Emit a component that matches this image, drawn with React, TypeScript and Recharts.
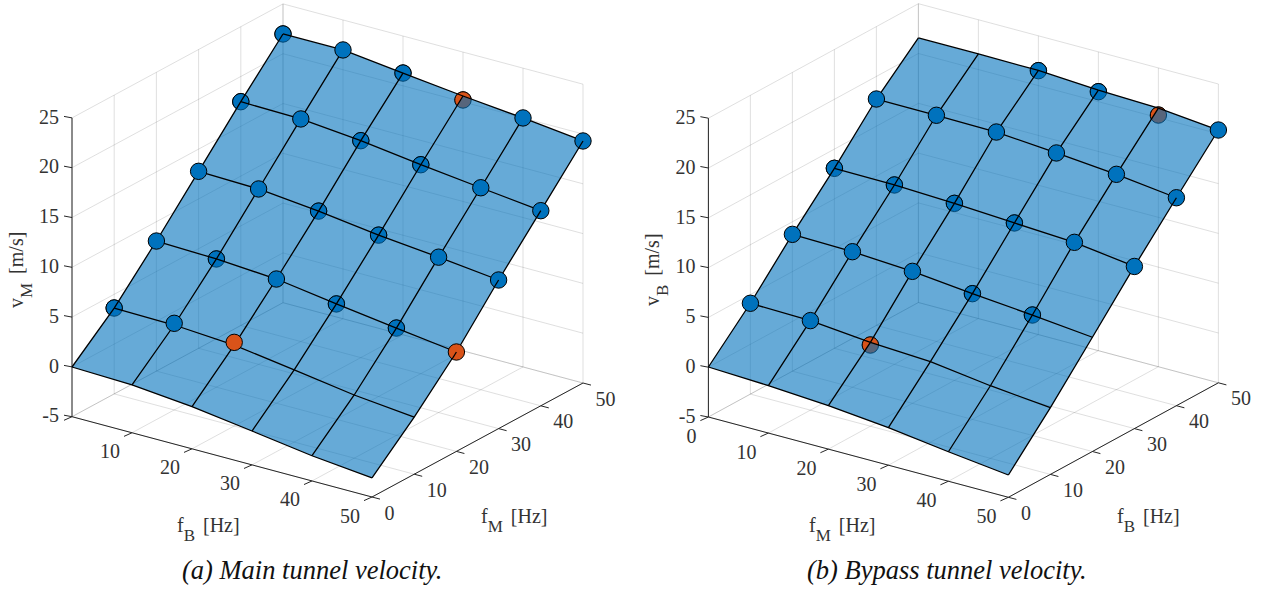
import { ScatterChart, Scatter, XAxis, YAxis } from 'recharts'

const hzGrid = [0, 10, 20, 30, 40, 50]
const hzTicks = ['0', '10', '20', '30', '40', '50']
const velocityTicks = [-5, 0, 5, 10, 15, 20, 25]

// surface heights [m/s], one row per depth-axis frequency 0..50, one column per front-axis frequency 0..50
const mainSurface = [
  [-0.01, -0.2, -0.77, -1.6, -2.47, -3.09],
  [3.62, 3.53, 3.13, 2.24, 1.34, 0.74],
  [8.06, 7.87, 7.47, 6.58, 5.77, 4.98],
  [12.77, 12.61, 12.0, 11.2, 10.6, 9.92],
  [17.47, 17.35, 16.78, 15.98, 15.28, 14.59],
  [21.98, 21.99, 21.28, 20.59, 20.0, 19.3],
]
const mainMeasured = [
  [null, null, null, null, null, null],
  [3.62, 3.7, 3.4, null, null, null],
  [8.06, 7.87, 7.47, 6.58, 5.77, 4.98],
  [12.77, 12.61, 12.0, 11.2, 10.6, 9.92],
  [17.47, 17.35, 16.78, 15.98, 15.28, 14.59],
  [21.98, 21.99, 21.28, 20.19, 20.0, 19.3],
]
// m = cuts through the surface, t = in front of it, s = in front with a mesh stub, upper case = orange
const mainKinds = ['------', 'mtT---', 'tmtmmS', 'ttmmts', 'mtmmts', 'mtmMts']

const bypassSurface = [
  [0.02, -0.24, -0.64, -1.23, -2.04, -2.76],
  [4.12, 3.99, 3.42, 3.09, 2.29, 1.7],
  [8.74, 8.61, 8.25, 7.62, 7.09, 6.47],
  [13.07, 13.01, 12.78, 12.42, 12.09, 11.28],
  [17.73, 17.71, 17.64, 17.15, 16.62, 15.88],
  [21.56, 21.57, 21.52, 21.17, 20.97, 20.38],
]
const bypassMeasured = [
  [null, null, null, null, null, null],
  [4.12, 3.99, 3.15, null, null, null],
  [8.74, 8.61, 8.25, 7.62, 7.09, null],
  [13.07, 13.01, 12.78, 12.42, 12.09, 11.28],
  [17.73, 17.71, 17.64, 17.15, 16.62, 15.88],
  [null, null, 21.5, 21.0, 20.27, 20.38],
]
const bypassKinds = ['------', 'ttM---', 'tttmm-', 'mmmmtt', 'ttttts', '--mmMt']

const BLUE = '#0072BD'
const ORANGE = '#D95319'
const AXIS = '#262626'
const TEXT = '#333333'
const FONT = '"Liberation Serif", serif'
const R = 8.2

interface View {
  left: number
  width: number
  ox: number
  oy: number
  ax: number
  ay: number
  bx: number
  by: number
  vs: number
}

const mainView: View = { left: 0, width: 640, ox: 72, oy: 416.7, ax: 6, ay: 1.606, bx: 4.22, by: -2.28, vs: 9.96 }
const bypassView: View = { left: 640, width: 641, ox: 708.4, oy: 417, ax: 6, ay: 1.606, bx: 4.2, by: -2.29, vs: 9.96 }

const project = (w: View, a: number, b: number, v: number) => ({
  x: w.ox + a * w.ax + b * w.bx,
  y: w.oy + a * w.ay + b * w.by - (v + 5) * w.vs,
})

const Nothing = () => null

// the part of a marker that stays in front of the surface
function capPaths(cx: number, cy: number, lift: number) {
  const rays = [[-0.52, 0.854], [0.94, 0.34]]
  const [p1, p2] = rays.map(([dx, dy]) => {
    const od = -lift * dy
    const t = -od + Math.sqrt(od * od - (lift * lift - R * R))
    return [cx + t * dx, cy - lift + t * dy]
  })
  const a1 = Math.atan2(p1[1] - cy, p1[0] - cx)
  const a2 = Math.atan2(p2[1] - cy, p2[0] - cx)
  const sweep = (a2 - a1 + Math.PI * 4) % (Math.PI * 2)
  const large = sweep > Math.PI ? 1 : 0
  const arc = `M${p1[0]},${p1[1]}A${R},${R} 0 ${large} 1 ${p2[0]},${p2[1]}`
  return { arc, fill: `${arc}L${cx},${cy - lift}Z` }
}

function polyline(key: string, data: { x: number; y: number }[], line: Record<string, unknown>) {
  return <Scatter key={key} data={data} line={line} shape={Nothing} isAnimationActive={false} />
}

const Disc = (p: any) => (
  <circle cx={p.cx} cy={p.cy} r={R} fill={p.payload.color} stroke="#000" strokeWidth={1} />
)

const Cap = (p: any) => {
  const { arc, fill } = capPaths(p.cx, p.cy, p.payload.lift)
  return (
    <g>
      <path d={fill} fill={p.payload.color} />
      <path d={arc} fill="none" stroke="#000" strokeWidth={1} />
    </g>
  )
}

const Topped = (p: any) => (
  <g>
    <circle cx={p.cx} cy={p.cy} r={R} fill={p.payload.color} stroke="#000" strokeWidth={1} />
    {p.payload.stub && (
      <line x1={p.cx} y1={p.cy} x2={p.cx - 0.52 * R} y2={p.cy + 0.854 * R} stroke="#000" strokeWidth={1.3} />
    )}
  </g>
)

const Label = (p: any) => (
  <text x={p.cx} y={p.cy} textAnchor={p.payload.anchor} fontFamily={FONT} fontSize={20} fill={TEXT}>
    {p.payload.text}
  </text>
)

const HzTitle = (p: any) => (
  <text x={p.cx} y={p.cy} fontFamily={FONT} fontSize={20} fill={TEXT}>
    f
    <tspan fontSize={17} dy={8.5}>{p.payload.sub}</tspan>
    <tspan dy={-8.5} dx={3}> [Hz]</tspan>
  </text>
)

const VelocityTitle = (p: any) => (
  <text
    x={p.cx}
    y={p.cy}
    transform={`rotate(-90 ${p.cx} ${p.cy})`}
    fontFamily={FONT}
    fontSize={20}
    fill={TEXT}
  >
    v
    <tspan fontSize={17} dy={9}>{p.payload.sub}</tspan>
    <tspan dy={-9} dx={4}> [m/s]</tspan>
  </text>
)

const Caption = (p: any) => (
  <text x={p.cx} y={p.cy} fontFamily={FONT} fontStyle="italic" fontSize={26.5} fill="#111">
    {p.payload.text}
  </text>
)

interface PanelProps {
  view: View
  surface: number[][]
  measured: (number | null)[][]
  kinds: string[]
  frontSub: string
  depthSub: string
  velocitySub: string
  showFrontZero: boolean
  frontTitle: { x: number; y: number }
  depthTitle: { x: number; y: number }
  velocityTitle: { x: number; y: number }
  caption: { x: number; y: number; text: string }
}

function TunnelPanel(props: PanelProps) {
  const { view: w, surface, measured, kinds } = props
  const gridLine = { stroke: AXIS, strokeOpacity: 0.15, strokeWidth: 1, fill: 'none' }
  const axisLine = { stroke: AXIS, strokeWidth: 1, fill: 'none' }
  const meshLine = { stroke: '#000', strokeWidth: 1.3, fill: 'none' }
  const top = velocityTicks[velocityTicks.length - 1]
  const floor = velocityTicks[0]

  const grid: React.ReactNode[] = []
  hzGrid.forEach((f) => {
    grid.push(polyline(`floor-a${f}`, [project(w, f, 0, floor), project(w, f, 50, floor)], gridLine))
    grid.push(polyline(`floor-b${f}`, [project(w, 0, f, floor), project(w, 50, f, floor)], gridLine))
    grid.push(polyline(`wall-a${f}`, [project(w, f, 50, floor), project(w, f, 50, top)], gridLine))
    grid.push(polyline(`wall-b${f}`, [project(w, 0, f, floor), project(w, 0, f, top)], gridLine))
  })
  velocityTicks.forEach((v) => {
    grid.push(polyline(`wall-hb${v}`, [project(w, 0, 0, v), project(w, 0, 50, v)], gridLine))
    grid.push(polyline(`wall-ha${v}`, [project(w, 0, 50, v), project(w, 50, 50, v)], gridLine))
  })

  const axes: React.ReactNode[] = [
    polyline('axis-v', [project(w, 0, 0, floor), project(w, 0, 0, top)], axisLine),
    polyline('axis-a', [project(w, 0, 0, floor), project(w, 50, 0, floor)], axisLine),
    polyline('axis-b', [project(w, 50, 0, floor), project(w, 50, 50, floor)], axisLine),
  ]
  const labels: any[] = []
  velocityTicks.forEach((v) => {
    const p = project(w, 0, 0, v)
    axes.push(polyline(`tick-v${v}`, [p, { x: p.x - 8, y: p.y - 1.5 }], axisLine))
    labels.push({ x: p.x - 13, y: p.y + 5.7, text: String(v), anchor: 'end' })
  })
  hzGrid.forEach((f, i) => {
    const pa = project(w, f, 0, floor)
    axes.push(polyline(`tick-a${f}`, [pa, { x: pa.x - 8, y: pa.y + 3.6 }], axisLine))
    if (i > 0 || props.showFrontZero) {
      labels.push({ x: pa.x - 12, y: pa.y + 25.5, text: hzTicks[i], anchor: 'end' })
    }
    const pb = project(w, 50, f, floor)
    axes.push(polyline(`tick-b${f}`, [pb, { x: pb.x + 8, y: pb.y + 2.1 }], axisLine))
    labels.push({ x: pb.x + 12.5, y: pb.y + 22.5, text: hzTicks[i], anchor: 'start' })
  })

  const outline = [
    ...hzGrid.map((f, i) => project(w, f, 0, surface[0][i])),
    ...hzGrid.map((f, j) => project(w, 50, f, surface[j][5])),
    ...[...hzGrid].reverse().map((f) => project(w, f, 50, surface[5][hzGrid.indexOf(f)])),
    ...[...hzGrid].reverse().map((f) => project(w, 0, f, surface[hzGrid.indexOf(f)][0])),
  ]

  const mesh: React.ReactNode[] = []
  hzGrid.forEach((f, j) => {
    mesh.push(polyline(`row${f}`, hzGrid.map((a, i) => project(w, a, f, surface[j][i])), meshLine))
    mesh.push(polyline(`col${f}`, hzGrid.map((b, k) => project(w, f, b, surface[k][j])), meshLine))
  })

  const cut: any[] = []
  const front: any[] = []
  measured.forEach((row, j) => {
    row.forEach((v, i) => {
      if (v === null) return
      const kind = kinds[j][i]
      const color = kind === kind.toUpperCase() ? ORANGE : BLUE
      const point = { ...project(w, hzGrid[i], hzGrid[j], v), color }
      const low = kind.toLowerCase()
      if (low === 'm') cut.push({ ...point, lift: (surface[j][i] - v) * w.vs })
      else front.push({ ...point, stub: low === 's' })
    })
  })

  return (
    <div style={{ position: 'absolute', left: w.left, top: 0 }}>
      <ScatterChart width={w.width} height={589} margin={{ top: 0, right: 0, bottom: 0, left: 0 }}>
        <XAxis type="number" dataKey="x" domain={[w.left, w.left + w.width]} allowDataOverflow hide />
        <YAxis type="number" dataKey="y" domain={[0, 589]} reversed allowDataOverflow hide />
        {grid}
        {axes}
        <Scatter data={cut} shape={Disc} isAnimationActive={false} />
        {polyline('surface', outline, { stroke: 'none', fill: BLUE, fillOpacity: 0.6 })}
        <Scatter data={cut} shape={Cap} isAnimationActive={false} />
        {mesh}
        <Scatter data={front} shape={Topped} isAnimationActive={false} />
        <Scatter data={labels} shape={Label} isAnimationActive={false} />
        <Scatter data={[{ ...props.frontTitle, sub: props.frontSub }]} shape={HzTitle} isAnimationActive={false} />
        <Scatter data={[{ ...props.depthTitle, sub: props.depthSub }]} shape={HzTitle} isAnimationActive={false} />
        <Scatter
          data={[{ ...props.velocityTitle, sub: props.velocitySub }]}
          shape={VelocityTitle}
          isAnimationActive={false}
        />
        <Scatter data={[props.caption]} shape={Caption} isAnimationActive={false} />
      </ScatterChart>
    </div>
  )
}

export default function App() {
  return (
    <div style={{ position: 'absolute', left: 0, top: 0, width: 1281, height: 589, background: '#fff' }}>
      <TunnelPanel
        view={mainView}
        surface={mainSurface}
        measured={mainMeasured}
        kinds={mainKinds}
        frontSub="B"
        depthSub="M"
        velocitySub="M"
        showFrontZero={false}
        frontTitle={{ x: 177, y: 532 }}
        depthTitle={{ x: 481, y: 523 }}
        velocityTitle={{ x: 23, y: 308 }}
        caption={{ x: 182, y: 579, text: '(a) Main tunnel velocity.' }}
      />
      <TunnelPanel
        view={bypassView}
        surface={bypassSurface}
        measured={bypassMeasured}
        kinds={bypassKinds}
        frontSub="M"
        depthSub="B"
        velocitySub="B"
        showFrontZero
        frontTitle={{ x: 809, y: 532 }}
        depthTitle={{ x: 1117, y: 523 }}
        velocityTitle={{ x: 659, y: 306 }}
        caption={{ x: 807, y: 579, text: '(b) Bypass tunnel velocity.' }}
      />
    </div>
  )
}
